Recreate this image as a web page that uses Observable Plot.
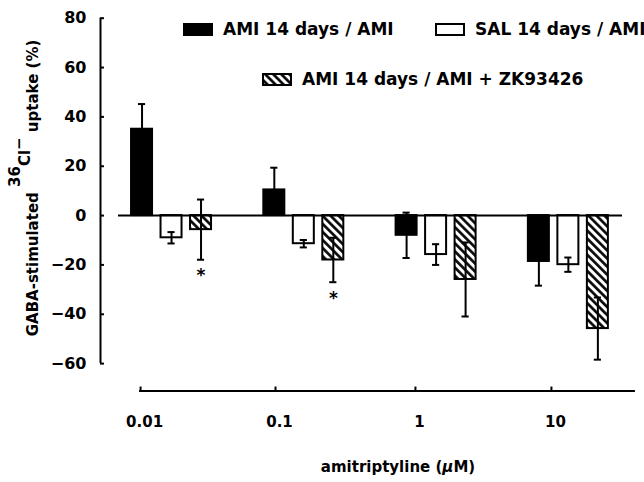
<!DOCTYPE html>
<html><head><meta charset="utf-8">
<script src="https://cdn.jsdelivr.net/npm/d3@7"></script>
<script src="https://cdn.jsdelivr.net/npm/@observablehq/plot@0.6"></script>
<style>
body{margin:0;background:#fff;}
#wrap{position:relative;width:644px;height:482px;overflow:hidden;font-family:"DejaVu Sans",sans-serif;font-weight:bold;color:#000;background:#fff;}
#wrap svg{display:block;}
.leg{position:absolute;display:flex;align-items:center;font-size:17px;line-height:18px;white-space:nowrap;}
.leg svg{margin-right:10px;}
</style></head><body><div id="wrap"></div>
<script>
// ---- data ----
const concentrations = ["0.01", "0.1", "1", "10"];
const seriesNames = ["AMI 14 days / AMI", "SAL 14 days / AMI", "AMI 14 days / AMI + ZK93426"];
const amiAmi = [35, 10.4, -8, -18.6];
const amiAmiSem = [10.2, 9, 9.2, 9.8];
const salAmi = [-9, -11.4, -15.8, -19.9];
const salAmiSem = [2.3, 1.5, 4.2, 2.9];
const amiZk = [-5.7, -18, -25.9, -45.8];
const amiZkSem = [12.2, 9, 15, 12.6];
const amiZkSignificant = [true, true, false, false];
const yTicks = [-60, -40, -20, 0, 20, 40, 60, 80];
const yTitle = ["GABA-stimulated ", "36", "Cl", "\u2212", " uptake (%)"];
const xTitle = ["amitriptyline (", "\u03bc", "M)"];

// ---- table ----
const values = [amiAmi, salAmi, amiZk];
const sems = [amiAmiSem, salAmiSem, amiZkSem];
const stars = [[false,false,false,false],[false,false,false,false], amiZkSignificant];
const rows = [];
values.forEach((vals, s) => vals.forEach((v, g) => rows.push({g, s, conc: concentrations[g], series: seriesNames[s], value: v, sem: sems[s][g], star: stars[s][g]})));

// ---- layout ----
const pitch = 0.223, hw = 0.0794, cap = 0.027;
const xc = d => d.g + (d.s - 1) * pitch;
const xLeft = -0.537, xRight = 3.515, yBottom = -71.1;
const xTickAt = [-0.234, 0.786, 1.844, 2.872];
const fills = ["black", "white", "url(#hatch)"];

const marks = [];
for (let s = 0; s < 3; s++) {
  marks.push(Plot.rectY(rows.filter(d => d.s === s), {x1: d => xc(d) - hw, x2: d => xc(d) + hw, y1: 0, y2: "value", fill: fills[s], stroke: "black", strokeWidth: 2}));
}
marks.push(
  Plot.ruleX(rows, {x: xc, y1: d => d.value - d.sem, y2: d => d.value + d.sem, stroke: "black", strokeWidth: 2}),
  Plot.ruleY(rows, {y: d => d.value - d.sem, x1: d => xc(d) - cap, x2: d => xc(d) + cap, stroke: "black", strokeWidth: 2}),
  Plot.ruleY(rows, {y: d => d.value + d.sem, x1: d => xc(d) - cap, x2: d => xc(d) + cap, stroke: "black", strokeWidth: 2}),
  Plot.ruleY([0], {x1: -0.401, x2: 3.409, stroke: "black", strokeWidth: 2}),
  Plot.ruleX([xLeft], {y1: -60, y2: 80, stroke: "black", strokeWidth: 2}),
  Plot.ruleY(yTicks, {x1: xLeft, x2: xLeft + 0.03, stroke: "black", strokeWidth: 2}),
  Plot.axisY(yTicks, {tickSize: 0, tickPadding: 14, fontSize: 16, label: null}),
  Plot.ruleY([yBottom], {x1: -0.242, x2: 3.507, stroke: "black", strokeWidth: 2}),
  Plot.ruleX(xTickAt, {y1: yBottom, y2: yBottom + 1.6, stroke: "black", strokeWidth: 2}),
  Plot.axisX(xTickAt, {tickSize: 0, tickPadding: 25, dx: 4, fontSize: 15, label: null, tickFormat: d => concentrations[xTickAt.indexOf(d)]}),
  Plot.text(rows.filter(d => d.star), {x: xc, y: d => d.value - d.sem, text: () => "*", dy: 16, fontSize: 17, lineAnchor: "middle"})
);

const plot = Plot.plot({
  width: 644, height: 482,
  marginLeft: 100, marginRight: 8, marginTop: 17.7, marginBottom: 91.5,
  x: {type: "linear", domain: [xLeft, xRight]},
  y: {domain: [yBottom, 80]},
  style: {fontFamily: "DejaVu Sans", fontWeight: "bold", background: "white", color: "black", overflow: "visible"},
  marks
});

const svg = d3.select(plot);
const defs = svg.insert("defs", ":first-child");
const pat = defs.append("pattern").attr("id", "hatch").attr("patternUnits", "userSpaceOnUse")
  .attr("width", 5.7).attr("height", 5.7).attr("patternTransform", "rotate(-45)");
pat.append("rect").attr("width", 5.7).attr("height", 5.7).attr("fill", "white");
pat.append("line").attr("x1", 1.4).attr("y1", -1).attr("x2", 1.4).attr("y2", 7).attr("stroke", "black").attr("stroke-width", 2.6);

// y title with raised 36Cl-
const yt = svg.append("text").attr("transform", "translate(38,188) rotate(-90)")
  .attr("text-anchor", "middle").attr("font-size", 15).attr("font-weight", "bold").attr("fill", "black");
const dys = [0, -18, 10, -6, 14];
yTitle.forEach((t, i) => yt.append("tspan").attr("dy", dys[i]).text(t));

// x title
const xt = svg.append("text").attr("x", 398).attr("y", 472).attr("text-anchor", "middle")
  .attr("font-size", 15).attr("font-weight", "bold").attr("fill", "black");
xTitle.forEach((t, i) => xt.append("tspan").attr("font-style", i === 1 ? "italic" : null).text(t));

const wrap = document.getElementById("wrap");
wrap.appendChild(plot);

// legend
const legPos = [[183, 20], [435, 20], [262, 70]];
seriesNames.forEach((name, s) => {
  const div = document.createElement("div");
  div.className = "leg";
  div.style.left = legPos[s][0] + "px";
  div.style.top = legPos[s][1] + "px";
  const sw = d3.create("svg").attr("width", 30).attr("height", 13);
  if (s === 2) {
    const p = sw.append("defs").append("pattern").attr("id", "hatchL").attr("patternUnits", "userSpaceOnUse")
      .attr("width", 5.7).attr("height", 5.7).attr("patternTransform", "rotate(-45)");
    p.append("rect").attr("width", 5.7).attr("height", 5.7).attr("fill", "white");
    p.append("line").attr("x1", 1.4).attr("y1", -1).attr("x2", 1.4).attr("y2", 7).attr("stroke", "black").attr("stroke-width", 2.6);
  }
  sw.append("rect").attr("x", 1).attr("y", 1).attr("width", 28).attr("height", 11)
    .attr("fill", s === 0 ? "black" : s === 1 ? "white" : "url(#hatchL)").attr("stroke", "black").attr("stroke-width", 2);
  div.appendChild(sw.node());
  const span = document.createElement("span");
  span.textContent = name;
  div.appendChild(span);
  wrap.appendChild(div);
});
</script></body></html>
